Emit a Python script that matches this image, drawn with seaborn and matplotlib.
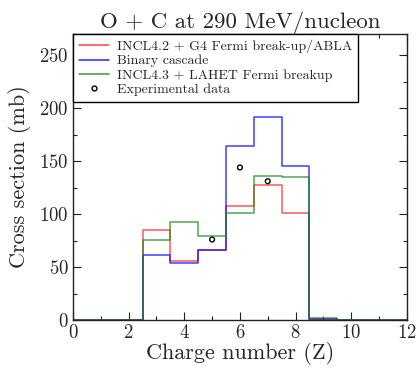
import numpy as np
import pandas as pd
import matplotlib
matplotlib.use("Agg")
import matplotlib.pyplot as plt
from matplotlib.lines import Line2D
import seaborn as sns

# ---- data ----
charge = [0, 1, 2, 3, 4, 5, 6, 7, 8, 9, 10, 11, 12]
incl42_abla = [0, 0, 0, 85, 56, 66, 108, 127, 101, 1, 0, 0, 0]
binary_cascade = [0, 0, 0, 61, 53.5, 66, 164, 191.5, 145, 0.5, 0, 0, 0]
incl43_lahet = [0, 0, 0, 76, 92.5, 79.5, 101, 136, 135, 2, 0, 0, 0]
exp_z = [5, 6, 7]
exp_xs = [76, 144, 131]

labels = ["INCL4.2 + G4 Fermi break-up/ABLA", "Binary cascade",
          "INCL4.3 + LAHET Fermi breakup", "Experimental data"]
colors = ["#ff2020", "#0000ff", "#138a13"]

sns.set_style("ticks")
plt.rcParams["font.family"] = ["cmr10", "DejaVu Serif"]
plt.rcParams["mathtext.fontset"] = "cm"
plt.rcParams["axes.unicode_minus"] = False
plt.rcParams["axes.formatter.use_mathtext"] = True

fig = plt.figure(figsize=(4.16, 3.68), dpi=100)
ax = fig.add_axes([0.1755, 0.1304, 0.8025, 0.7772])

series = [incl42_abla, binary_cascade, incl43_lahet]
for vals, col in zip(series, colors):
    df = pd.DataFrame({"Z": charge, "xs": vals})
    sns.histplot(data=df, x="Z", weights="xs", binwidth=1, binrange=(-0.5, 12.5),
                 element="step", fill=False, color=col, linewidth=1.1,
                 alpha=0.75, ax=ax)

df_exp = pd.DataFrame({"Z": exp_z, "xs": exp_xs})
sns.scatterplot(data=df_exp, x="Z", y="xs", marker="o", s=12,
                facecolor="none", edgecolor="black", linewidth=1.0, ax=ax, zorder=5)

ax.set_xlim(0, 12)
ax.set_ylim(0, 270)
ax.set_xticks(np.arange(0, 13, 2))
ax.set_xticks(np.arange(1, 12, 2), minor=True)
ax.set_yticks(np.arange(0, 251, 50))
ax.set_yticks(np.arange(25, 270, 50), minor=True)
ax.tick_params(which="both", direction="in", top=True, right=True,
               labelsize=13.5, width=0.8, color="#222222", pad=3)
ax.tick_params(which="major", length=6)
ax.tick_params(which="minor", length=3)
for s in ax.spines.values():
    s.set_linewidth(1.0)
    s.set_color("#222222")

ax.set_xlabel("Charge number (Z)", fontsize=16, labelpad=0)
ax.set_ylabel("Cross section (mb)", fontsize=16, labelpad=6)
ax.set_title("O + C at 290 MeV/nucleon", fontsize=16.5, pad=4)

handles = [Line2D([0], [0], color=c, lw=1.1, alpha=0.85) for c in colors]
handles.append(Line2D([0], [0], marker="o", color="black", ls="none",
                      markerfacecolor="none", markersize=3.5, markeredgewidth=1.0))
leg = ax.legend(handles, labels, loc="upper left", borderaxespad=0,
                fontsize=10, fancybox=False, framealpha=1, edgecolor="black",
                handlelength=2.2, handletextpad=0.6, labelspacing=0.12,
                borderpad=0.4)
leg.get_frame().set_linewidth(1.0)

fig.savefig("out.png", dpi=100)
